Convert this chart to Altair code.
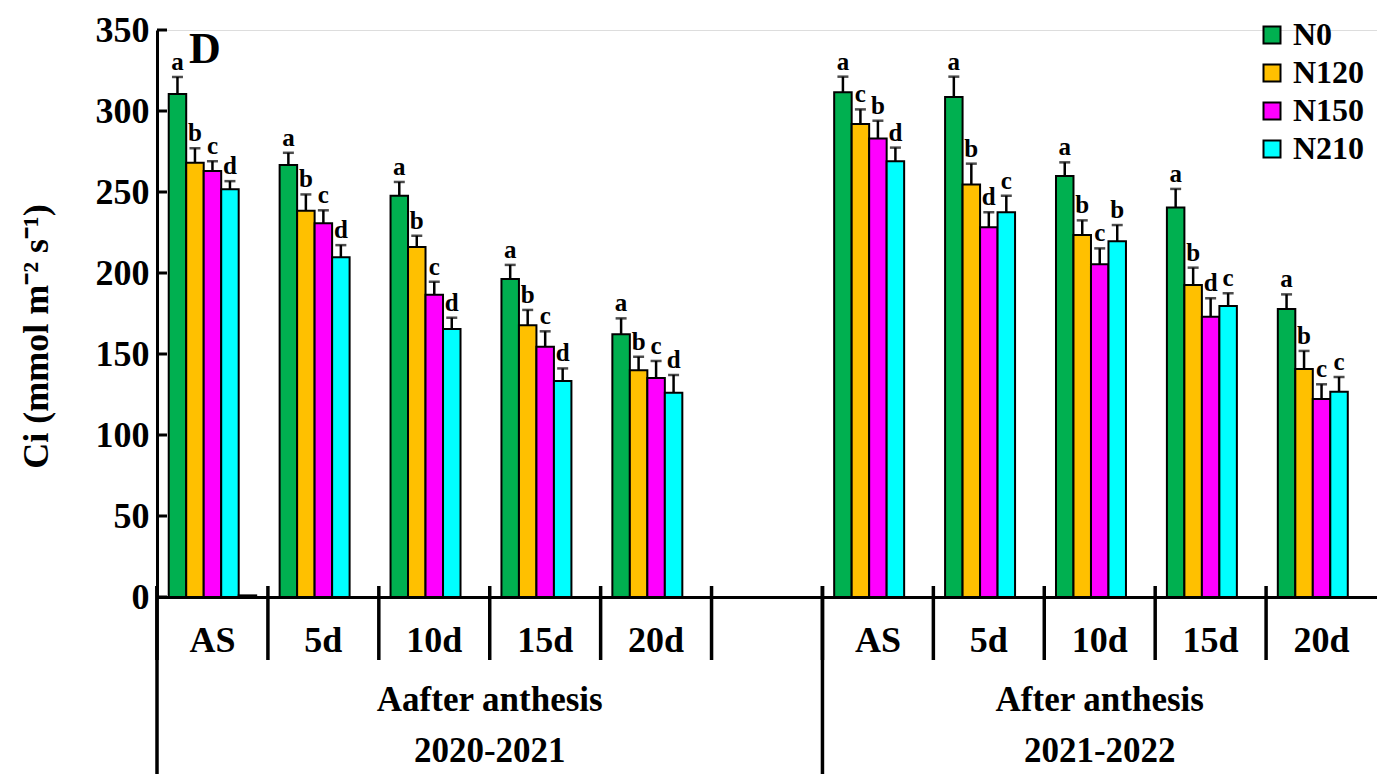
import altair as alt
import pandas as pd

FONT = "Liberation Serif"

stages = ["AS", "5d", "10d", "15d", "20d"]
seasons = ["2020-2021", "2021-2022"]
group_titles = ["Aafter anthesis", "After anthesis"]
series = ["N0", "N120", "N150", "N210"]
colors = ["#00B050", "#FFC000", "#FF00FF", "#00FFFF"]
y_ticks = [0, 50, 100, 150, 200, 250, 300, 350]

# 2020-2021
v20 = {
    "N0": [310.5, 266.7, 247.7, 196.3, 162.2],
    "N120": [268.0, 238.5, 216.0, 167.7, 140.0],
    "N150": [263.0, 230.7, 186.6, 154.5, 135.2],
    "N210": [251.7, 209.7, 165.4, 133.3, 126.1],
}
e20 = {
    "N0": [10.5, 7.5, 8.5, 8.7, 9.8],
    "N120": [9.0, 10.0, 7.0, 9.5, 8.3],
    "N150": [6.0, 8.0, 8.0, 9.5, 10.5],
    "N210": [5.0, 7.5, 7.0, 7.8, 11.0],
}
l20 = {
    "N0": ["a", "a", "a", "a", "a"],
    "N120": ["b", "b", "b", "b", "b"],
    "N150": ["c", "c", "c", "c", "c"],
    "N210": ["d", "d", "d", "d", "d"],
}
# 2021-2022
v21 = {
    "N0": [311.5, 308.6, 259.9, 240.5, 177.8],
    "N120": [292.0, 254.7, 223.5, 192.6, 140.7],
    "N150": [283.0, 228.2, 205.4, 173.0, 122.2],
    "N210": [269.0, 237.5, 219.6, 179.6, 126.7],
}
e21 = {
    "N0": [9.7, 12.6, 8.4, 11.4, 9.0],
    "N120": [9.0, 12.8, 9.0, 10.7, 11.2],
    "N150": [11.0, 9.3, 9.8, 11.4, 9.1],
    "N210": [8.4, 10.2, 10.0, 7.9, 9.1],
}
l21 = {
    "N0": ["a", "a", "a", "a", "a"],
    "N120": ["c", "b", "b", "b", "b"],
    "N150": ["b", "d", "c", "d", "c"],
    "N210": ["d", "c", "b", "c", "c"],
}

slot_domain = [s + "|1" for s in stages] + ["gap"] + [s + "|2" for s in stages]
group_starts = ["AS|1", "AS|2"]
offset_domain = series + ["blank"]

rows = []
for tag, vals, errs, lets in [("1", v20, e20, l20), ("2", v21, e21, l21)]:
    for s in series:
        for i, st in enumerate(stages):
            rows.append(dict(slot=st + "|" + tag, series=s, value=vals[s][i],
                             err=errs[s][i], top=vals[s][i] + errs[s][i],
                             letter=lets[s][i]))
df = pd.DataFrame(rows)
# empty fifth bar, seen as a small dash at zero in the first group
blank_df = pd.DataFrame([dict(slot="AS|1", series="blank", value=1.0)])
bars_df = pd.concat([df, blank_df], ignore_index=True)

xscale = alt.Scale(domain=slot_domain, paddingInner=0, paddingOuter=0)
xaxis = alt.Axis(
    title=None, ticks=False, domainColor="black", domainWidth=3, labelAngle=0,
    labelExpr="isString(datum.value) && datum.value != 'gap' ? split(datum.value, '|')[0] : ''",
    labelFont=FONT, labelFontWeight="bold", labelFontSize=36, labelColor="black",
    labelBaseline="middle", labelPadding=43,
)
X = alt.X("slot:N", scale=xscale, axis=xaxis, sort=slot_domain)
XO = alt.XOffset("series:N", scale=alt.Scale(domain=offset_domain, paddingInner=0, paddingOuter=0.67))
yscale = alt.Scale(domain=[0, 350], nice=False, zero=True)
yaxis = alt.Axis(
    title="Ci (mmol m⁻² s⁻¹)", values=y_ticks, tickSize=0, domainColor="black",
    domainWidth=3, labelFont=FONT, labelFontWeight="bold", labelFontSize=36,
    labelColor="black", labelPadding=8, grid=False,
    titleFont=FONT, titleFontWeight="bold", titleFontSize=36, titleColor="black",
    titleX=-121, titleY=306, titleAngle=-90, titleAlign="center", titleBaseline="middle",
)


def Y(field):
    return alt.Y(field, scale=yscale, axis=yaxis)


def XB(pos):
    return alt.X("slot:N", scale=xscale, axis=xaxis, bandPosition=pos)


color = alt.Color(
    "series:N",
    scale=alt.Scale(domain=offset_domain, range=colors + ["black"]),
    legend=alt.Legend(
        values=series, title=None, orient="none", legendX=1099, legendY=-11,
        symbolType="square", symbolSize=289, symbolStrokeColor="black",
        symbolStrokeWidth=2, labelFont=FONT, labelFontWeight="bold",
        labelFontSize=32, labelColor="black", rowPadding=6, labelOffset=5,
    ),
)

bars = alt.Chart(bars_df).mark_bar(stroke="black", strokeWidth=2).encode(
    x=X, xOffset=XO, y=Y("value:Q"), color=color
)
err_rule = alt.Chart(df).mark_rule(color="black", strokeWidth=2.5).encode(
    x=X, xOffset=XO, y=Y("value:Q"), y2="top:Q"
)
err_cap = alt.Chart(df).mark_tick(color="black", thickness=2.5, size=11).encode(
    x=X, xOffset=XO, y=Y("top:Q")
)
letters = alt.Chart(df).mark_text(
    font=FONT, fontWeight="bold", fontSize=25, color="black", baseline="alphabetic", dy=-7
).encode(x=X, xOffset=XO, y=Y("top:Q"), text="letter:N")

ticks_df = pd.DataFrame({"v": y_ticks})
yticks = alt.Chart(ticks_df).mark_rule(color="black", strokeWidth=3).encode(
    y=Y("v:Q"), x=alt.value(0), x2=alt.value(10)
)

# category separators (short) and group separators (long)
bound_df = pd.DataFrame({"slot": slot_domain})
bounds = alt.Chart(bound_df).mark_rule(color="black", strokeWidth=3.5).encode(
    x=XB(0), y=alt.value(556), y2=alt.value(630),
)
sep_df = pd.DataFrame({"slot": group_starts})
seps = alt.Chart(sep_df).mark_rule(color="black", strokeWidth=3.5).encode(
    x=XB(0), y=alt.value(556), y2=alt.value(760),
)

g1_df = pd.DataFrame({"slot": ["15d|1"], "label": [group_titles[0] + "\n" + seasons[0]]})
g2_df = pd.DataFrame({"slot": ["10d|2"], "label": [group_titles[1] + "\n" + seasons[1]]})
gtext_kw = dict(font=FONT, fontWeight="bold", fontSize=35, color="black",
                baseline="alphabetic", align="center", lineBreak="\n", lineHeight=51)
g1 = alt.Chart(g1_df).mark_text(**gtext_kw).encode(
    x=XB(0), y=alt.value(681), text="label:N")
g2 = alt.Chart(g2_df).mark_text(**gtext_kw).encode(
    x=XB(0.5), y=alt.value(681), text="label:N")

panel_df = pd.DataFrame({"t": ["D"]})
panel = alt.Chart(panel_df).mark_text(
    font=FONT, fontWeight="bold", fontSize=44, color="black", align="left", baseline="alphabetic"
).encode(x=alt.value(32), y=alt.value(33), text="t:N")

chart = alt.layer(bars, err_rule, err_cap, letters, yticks, bounds, seps, g1, g2, panel).properties(
    width=1220, height=567,
    autosize=alt.AutoSizeParams(type="none"),
    padding={"left": 149, "top": 22, "right": 0, "bottom": 177},
).configure_view(stroke=None).configure(background="white")

chart.save("out.html", embed_options={"renderer": "svg", "actions": False})
